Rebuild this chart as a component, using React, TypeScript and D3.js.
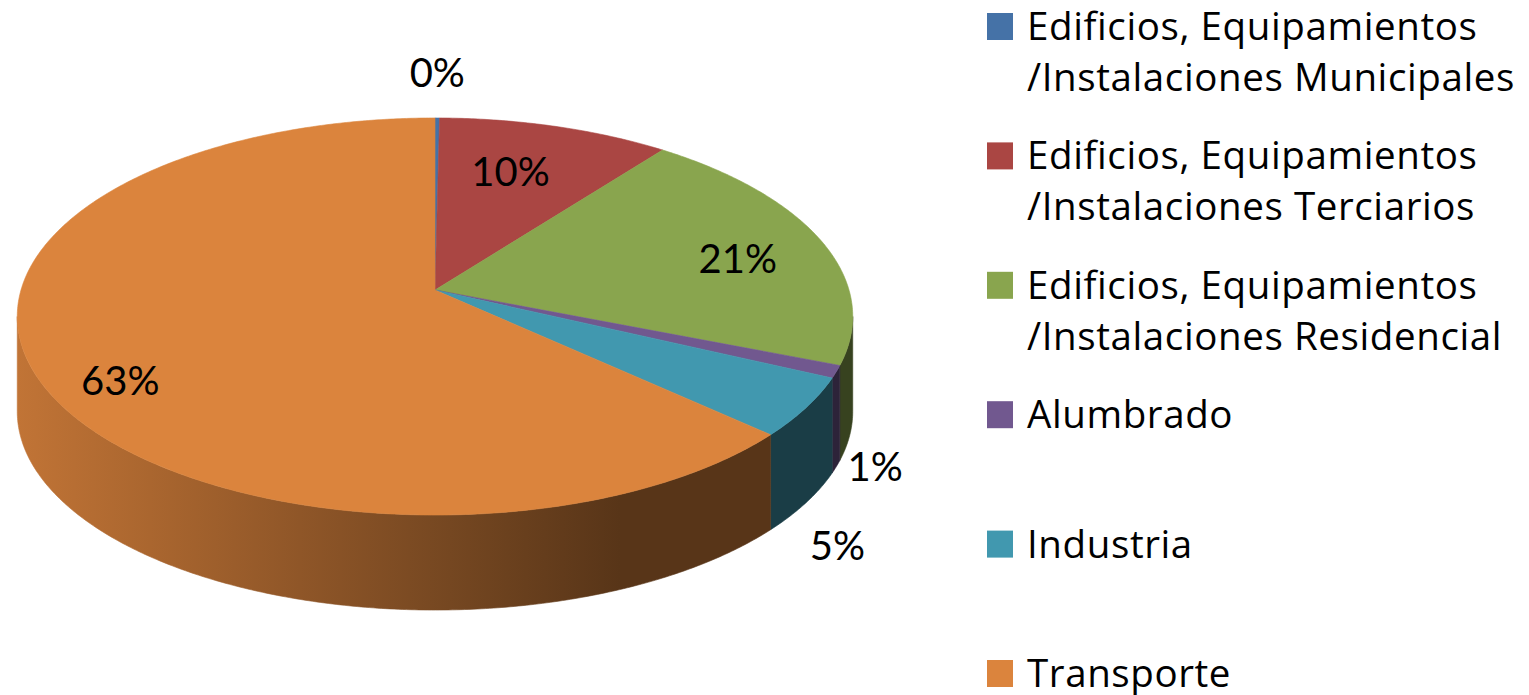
import React from "react";
import * as d3 from "d3";

const categories = [
  "Edificios, Equipamientos\n/Instalaciones Municipales",
  "Edificios, Equipamientos\n/Instalaciones Terciarios",
  "Edificios, Equipamientos\n/Instalaciones Residencial",
  "Alumbrado",
  "Industria",
  "Transporte",
];
const values = [0.2, 10.2, 20.6, 1.0, 4.8, 63.2];
const percentLabels = ["0%", "10%", "21%", "1%", "5%", "63%"];
const colors = ["#4572A7", "#AA4643", "#89A54E", "#71588F", "#4198AF", "#DB843D"];

// layout
const W = 1529, H = 695;
const CX = 435, CY = 290, A = 414, B = 195, K = 0.1335, DEPTH = 95;
// label placement: radius factor + nudge
const labelLayout = [
  { r: 1.0, dx: 0, dy: -46 },
  { r: 0.6, dx: 0, dy: -16 },
  { r: 0.78, dx: 0, dy: 7 },
  { r: 1.0, dx: 39, dy: 94 },
  { r: 1.0, dx: 31, dy: 138 },
  { r: 0.8, dx: 2, dy: 24 },
];

function proj(theta: number, r = 1, dz = 0): [number, number] {
  const u = r * Math.sin(theta);
  const v = r * Math.cos(theta);
  const w = 1 + K * v;
  return [CX + (A * u) / w, CY - (B * v) / w + dz];
}

function arcPts(a0: number, a1: number, dz = 0): [number, number][] {
  const n = Math.max(2, Math.ceil(((a1 - a0) / (Math.PI * 2)) * 720));
  const pts: [number, number][] = [];
  for (let i = 0; i <= n; i++) pts.push(proj(a0 + ((a1 - a0) * i) / n, 1, dz));
  return pts;
}

const FONT = "Lato, 'Noto Sans', sans-serif";
const LEGEND_FONT = "'Open Sans', 'Noto Sans', sans-serif";

export default function App() {
  const pie = d3.pie<number>().sort(null).startAngle(0).endAngle(2 * Math.PI).value((d) => d);
  const arcs = pie(values);
  const line = d3.line();
  const thS = Math.acos(-K);
  const thE = 2 * Math.PI - thS;

  const shade = d3.scaleLinear().domain([17, 620, 853]).range([0.88, 0.4, 0.4]).clamp(true);
  const stopsX = [17, 150, 300, 450, 620, 853];

  const sides = arcs.map((a, i) => {
    const s = Math.max(a.startAngle, thS);
    const e = Math.min(a.endAngle, thE);
    if (e <= s) return null;
    const top = arcPts(s, e, 0);
    const bot = arcPts(s, e, DEPTH).reverse();
    return <path key={"s" + i} d={line([...top, ...bot])! + "Z"} fill={`url(#side${i})`} stroke={`url(#side${i})`} strokeWidth={0.6} />;
  });

  const tops = arcs.map((a, i) => {
    const pts: [number, number][] = [[CX, CY], ...arcPts(a.startAngle, a.endAngle, 0)];
    return <path key={"t" + i} d={line(pts)! + "Z"} fill={colors[i]} stroke={colors[i]} strokeWidth={0.6} />;
  });

  const labels = arcs.map((a, i) => {
    const L = labelLayout[i];
    const mid = (a.startAngle + a.endAngle) / 2;
    const [x, y] = proj(mid, L.r, 0);
    return (
      <text key={"l" + i} x={x + L.dx} y={y + L.dy} textAnchor="middle" dominantBaseline="central"
        fontFamily={FONT} fontSize={40} fill="#000">{percentLabels[i]}</text>
    );
  });

  const legendY = d3.scaleLinear().domain([0, 5]).range([13, 660]);

  return (
    <svg width={W} height={H} style={{ position: "absolute", left: 0, top: 0, background: "#fff" }}>
      <defs>
        {colors.map((c, i) => {
          const rgb = d3.rgb(c);
          return (
            <linearGradient key={i} id={`side${i}`} gradientUnits="userSpaceOnUse" x1={17} x2={853} y1={0} y2={0}>
              {stopsX.map((sx, j) => {
                const f = shade(sx);
                const col = d3.rgb(rgb.r * f, rgb.g * f, rgb.b * f).formatHex();
                return <stop key={j} offset={(sx - 17) / (853 - 17)} stopColor={col} />;
              })}
            </linearGradient>
          );
        })}
      </defs>
      <rect x={0} y={0} width={W} height={H} fill="#fff" />
      {sides}
      {tops}
      {labels}
      {categories.map((c, i) => {
        const y0 = legendY(i);
        const lines = c.split("\n");
        return (
          <g key={"lg" + i}>
            <rect x={987} y={y0} width={26} height={27} fill={colors[i]} />
            {lines.map((t, j) => (
              <text key={j} x={1027} y={y0 + 27 + j * 51} fontFamily={LEGEND_FONT} fontSize={38.5}
                letterSpacing={0.6} fill="#000">{t}</text>
            ))}
          </g>
        );
      })}
    </svg>
  );
}
